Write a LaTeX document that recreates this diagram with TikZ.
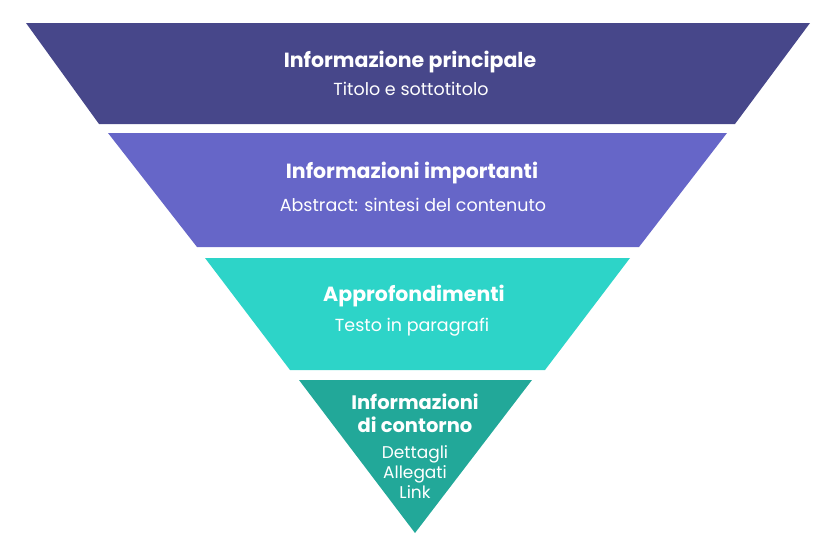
\documentclass[tikz,border=0pt]{standalone}
\usepackage{fontspec}
\setmainfont{Poppins}
\definecolor{lay1}{HTML}{47478A}
\definecolor{lay2}{HTML}{6666C8}
\definecolor{lay3}{HTML}{2DD4C8}
\definecolor{lay4}{HTML}{22A899}
\tikzset{
  layer/.style={draw=none},
  ttl/.style={text=white, font=\bfseries\fontsize{20.5}{22}\selectfont, align=center, inner sep=0pt},
  sub/.style={text=white, font=\fontsize{17.5}{20}\selectfont, align=center, inner sep=0pt},
}
\begin{document}
\begin{tikzpicture}[x=1pt,y=-1pt]
\useasboundingbox (0,0) rectangle (836,554);
\fill[lay1] (26,23) -- (810,23) -- (735,124) -- (99,124) -- cycle;
\fill[lay2] (108,133) -- (727,133) -- (639,247) -- (197,247) -- cycle;
\fill[lay3] (205,258) -- (630,258) -- (545,370) -- (290,370) -- cycle;
\fill[lay4] (299,380) -- (532,380) -- (415,533) -- cycle;
\node[ttl] (t1) at (410,62) {Informazione principale};
\node[sub] (s1) at (411,89) {Titolo e sottotitolo};
\node[ttl] (t2) at (412,173) {Informazioni importanti};
\node[sub] (s2) at (413,205) {Abstract: sintesi del contenuto};
\node[ttl] (t3) at (414,296) {Approfondimenti};
\node[sub] (s3) at (412,327) {Testo in paragrafi};
\node[ttl, font=\bfseries\fontsize{19.5}{23}\selectfont] (t4) at (415,413) {Informazioni\\di contorno};
\node[sub, font=\fontsize{17}{20}\selectfont] (s4) at (415,472) {Dettagli\\Allegati\\Link};
\end{tikzpicture}
\end{document}
